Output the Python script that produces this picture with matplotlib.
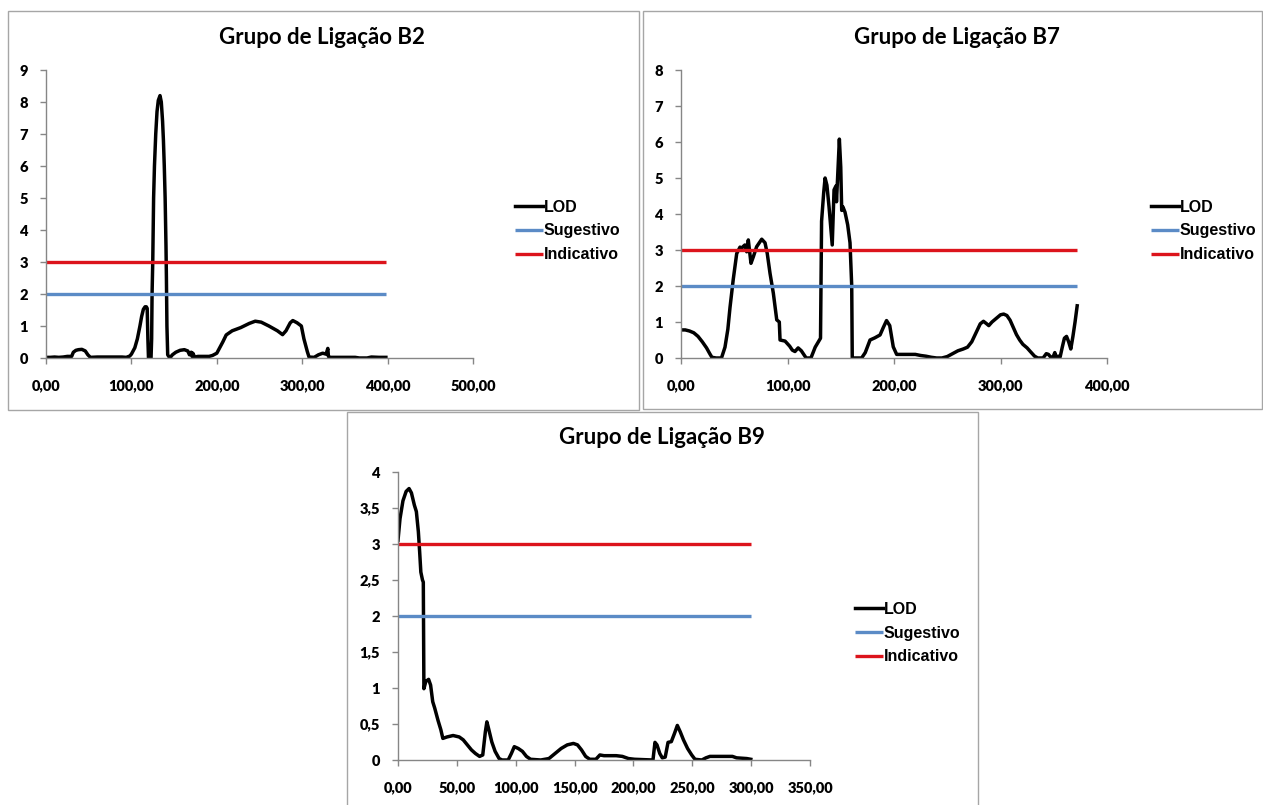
import matplotlib.pyplot as plt
from matplotlib.patches import Rectangle
from matplotlib.ticker import FuncFormatter, MultipleLocator

W, H = 1263, 805

# Grupo B2
b2_pos = [0, 5, 10, 15, 20, 25, 30, 32, 35, 38, 42, 46, 49, 52, 60, 70, 80, 89, 94,
          98, 100, 102, 104, 107, 110, 112, 114, 116, 117.5, 118.5, 119.3, 120, 123,
          123.7, 124.2, 125, 126, 127, 128.5, 130, 131.5, 133.5, 135, 136.5, 137.5,
          138.5, 139.5, 140.5, 141, 141.6, 142.5, 145, 148, 152, 157, 162, 166, 168,
          170, 171, 172, 174, 178, 185, 191, 195, 200, 204, 207, 211, 218, 228, 238,
          245, 252, 261, 271, 277, 281, 286, 289, 294, 299, 302, 306, 308, 314, 319,
          324, 328, 330, 330.7, 333, 345, 352, 362, 367, 376, 381, 390, 398]
b2_lod = [0.02, 0.02, 0.03, 0.02, 0.03, 0.05, 0.05, 0.18, 0.24, 0.26, 0.27, 0.22, 0.1,
          0.02, 0.03, 0.03, 0.03, 0.03, 0.02, 0.06, 0.12, 0.22, 0.32, 0.6, 1.0, 1.3,
          1.52, 1.6, 1.6, 1.55, 0.6, 0.0, 0.0, 0.6, 2.0, 3.0, 5.0, 6.0, 7.0, 7.7, 8.05,
          8.2, 8.0, 7.4, 6.8, 6.0, 5.0, 3.5, 2.5, 1.0, 0.1, 0.0, 0.1, 0.18, 0.24, 0.26,
          0.22, 0.1, 0.18, 0.05, 0.15, 0.03, 0.05, 0.05, 0.05, 0.08, 0.15, 0.35, 0.5,
          0.72, 0.85, 0.95, 1.08, 1.15, 1.12, 1.0, 0.85, 0.73, 0.85, 1.1, 1.17, 1.1,
          1.0, 0.6, 0.2, 0.03, 0.02, 0.1, 0.15, 0.12, 0.3, 0.05, 0.02, 0.02, 0.02,
          0.02, 0.0, 0.0, 0.03, 0.02, 0.02]

# Grupo B7
b7_pos = [0, 4, 8, 12, 16, 20, 24, 27, 29, 33, 38, 41.3, 44, 46, 49, 52.3, 55.4, 57,
          58.5, 60, 61.7, 63.2, 65.7, 67.9, 71, 75.8, 78.9, 81, 83.6, 86.7, 89.9, 92.3,
          93, 97.7, 102, 104.5, 107, 110, 113, 117.5, 122, 126, 130, 131, 132, 134,
          135.3, 137, 139, 142, 143.7, 145.5, 146, 147.5, 148.7, 150, 150.9, 152, 154,
          156.5, 158.7, 160.3, 160.8, 165, 169.6, 173, 177.5, 182, 186.9, 190, 193,
          196, 199.3, 202.5, 210, 215, 220, 225, 230, 235, 240, 245, 250, 255, 260,
          265, 269, 273, 277, 281, 284, 287, 289, 292, 296, 300, 303, 306, 309, 312,
          315, 318, 321, 325, 328, 332, 335, 340, 343, 345, 347, 349, 351, 352, 354,
          356, 358, 360, 362, 364, 366, 368, 370, 372]
b7_lod = [0.78, 0.78, 0.75, 0.7, 0.6, 0.45, 0.28, 0.12, 0.02, 0.0, 0.0, 0.3, 0.8, 1.4,
          2.17, 2.9, 3.08, 3.05, 3.1, 3.14, 2.95, 3.28, 2.63, 2.81, 3.09, 3.3, 3.2, 2.9,
          2.35, 1.8, 1.06, 1.0, 0.5, 0.47, 0.33, 0.22, 0.18, 0.28, 0.2, 0.0, 0.0, 0.3,
          0.5, 0.55, 3.8, 4.6, 5.0, 4.8, 4.2, 3.14, 4.67, 4.78, 4.34, 5.3, 6.08, 5.3,
          4.1, 4.2, 4.05, 3.7, 3.2, 2.0, 0.0, 0.0, 0.0, 0.15, 0.5, 0.56, 0.64, 0.85,
          1.04, 0.9, 0.31, 0.1, 0.1, 0.1, 0.1, 0.07, 0.05, 0.02, 0.0, 0.0, 0.04, 0.12,
          0.2, 0.25, 0.3, 0.45, 0.7, 0.95, 1.02, 0.95, 0.9, 1.0, 1.1, 1.2, 1.22, 1.18,
          1.05, 0.85, 0.65, 0.5, 0.38, 0.28, 0.18, 0.05, 0.0, 0.0, 0.12, 0.1, 0.03, 0.0,
          0.15, 0.03, 0.05, 0.03, 0.3, 0.55, 0.6, 0.45, 0.25, 0.6, 1.0, 1.45]

# Grupo B9
b9_pos = [0, 1.7, 4.2, 6.9, 9.4, 11.4, 13.9, 15.6, 17.3, 18.4, 19.4, 20.8, 21.5, 22.0,
          23.6, 26, 27.7, 29.5, 31.2, 34, 36.4, 38.1, 41.6, 46.8, 52, 55.4, 58.9, 62.4,
          65.8, 69.3, 72, 74.2, 75.5, 76.9, 79.7, 82.5, 85.9, 88.4, 93.6, 96.3, 98.8,
          102.2, 105.7, 109.1, 112.6, 121.3, 128.2, 133.4, 138.6, 143.8, 149, 152.5,
          155.9, 159.4, 162.9, 168.1, 171.5, 175, 185.4, 190.6, 195.8, 201, 216.6,
          218.3, 220, 222.4, 224.5, 227, 229.4, 232.2, 234.9, 237.3, 239.8, 242.5, 246,
          249.5, 252.3, 258.1, 261.6, 265, 284.1, 287.6, 296.3, 299.7]
b9_lod = [3.05, 3.35, 3.6, 3.73, 3.77, 3.71, 3.54, 3.45, 3.17, 2.89, 2.61, 2.5, 2.47,
          0.99, 1.09, 1.12, 1.04, 0.81, 0.72, 0.55, 0.42, 0.3, 0.32, 0.34, 0.32, 0.28,
          0.21, 0.14, 0.09, 0.05, 0.07, 0.39, 0.53, 0.44, 0.25, 0.12, 0.02, 0.0, 0.0,
          0.09, 0.185, 0.16, 0.12, 0.05, 0.01, 0.0, 0.02, 0.09, 0.16, 0.21, 0.23, 0.21,
          0.14, 0.05, 0.01, 0.01, 0.07, 0.06, 0.06, 0.05, 0.02, 0.01, 0.0, 0.245, 0.21,
          0.09, 0.03, 0.04, 0.245, 0.255, 0.37, 0.48, 0.39, 0.28, 0.16, 0.07, 0.01, 0.0,
          0.03, 0.05, 0.05, 0.03, 0.02, 0.01]

sugestivo = 2
indicativo = 3

# (titulo, x, lod, xmax, xstep, ymax, ystep, caixa, eixo, titulo_xy, legenda_xy)
grupos = [
    ("Grupo de Ligação B2", b2_pos, b2_lod, 500, 100, 9, 1,
     (8, 11, 639, 410), (46, 473, 70, 358), (322, 37), (515, 231)),
    ("Grupo de Ligação B7", b7_pos, b7_lod, 400, 100, 8, 1,
     (643, 11, 1262, 409), (681, 1107, 70, 358), (957, 37), (1151, 231)),
    ("Grupo de Ligação B9", b9_pos, b9_lod, 350, 50, 4, 0.5,
     (347, 412, 978, 806), (398, 810, 472, 760), (662, 437), (855, 633)),
]

fig = plt.figure(figsize=(W / 100, H / 100), dpi=100)
fig.patch.set_facecolor('white')

for titulo, xs, lod, xmax, xstep, ymax, ystep, caixa, eixo, txy, lxy in grupos:
    x0, y0, x1, y1 = caixa
    fig.patches.append(Rectangle((x0 / W, 1 - y1 / H), (x1 - x0) / W, (y1 - y0) / H,
                                 transform=fig.transFigure, fill=False,
                                 edgecolor='#a6a6a6', linewidth=1.0))

    left, right, top, bottom = eixo
    ax = fig.add_axes([left / W, 1 - bottom / H, (right - left) / W, (bottom - top) / H])
    ax.plot(xs, lod, color='black', lw=2.5, label='LOD', solid_joinstyle='round')
    ax.plot([0, xs[-1]], [sugestivo, sugestivo], color='#5b8bc6', lw=2.4,
            label='Sugestivo', solid_capstyle='butt')
    ax.plot([0, xs[-1]], [indicativo, indicativo], color='#dc141c', lw=2.4,
            label='Indicativo', solid_capstyle='butt')

    ax.set_xlim(0, xmax)
    ax.set_ylim(0, ymax)
    ax.xaxis.set_major_locator(MultipleLocator(xstep))
    ax.yaxis.set_major_locator(MultipleLocator(ystep))
    ax.xaxis.set_major_formatter(FuncFormatter(lambda v, p: f'{v:.2f}'.replace('.', ',')))
    ax.yaxis.set_major_formatter(FuncFormatter(lambda v, p: f'{v:g}'.replace('.', ',')))

    for s in ['top', 'right']:
        ax.spines[s].set_visible(False)
    for s in ['left', 'bottom']:
        ax.spines[s].set_color('#868686')
        ax.spines[s].set_linewidth(1.0)
    ax.tick_params(axis='both', colors='#868686', length=4, width=1,
                   labelcolor='black', labelsize=10.5)
    ax.tick_params(axis='x', pad=11)
    ax.tick_params(axis='y', pad=9)
    for lab in ax.get_xticklabels() + ax.get_yticklabels():
        lab.set_fontfamily('Lato')
        lab.set_fontweight('heavy')

    fig.text(txy[0] / W, 1 - txy[1] / H, titulo, ha='center', va='center',
             fontsize=16, fontweight='bold', family='Lato')

    ax.legend(loc='center left', bbox_to_anchor=(lxy[0] / W, 1 - lxy[1] / H),
              bbox_transform=fig.transFigure, frameon=False, borderpad=0,
              borderaxespad=0, handlelength=1.75, handletextpad=0.05,
              labelspacing=0.55,
              prop={'family': 'Liberation Sans', 'weight': 'bold', 'size': 11.5})

fig.savefig('out.png', dpi=100, facecolor='white')
